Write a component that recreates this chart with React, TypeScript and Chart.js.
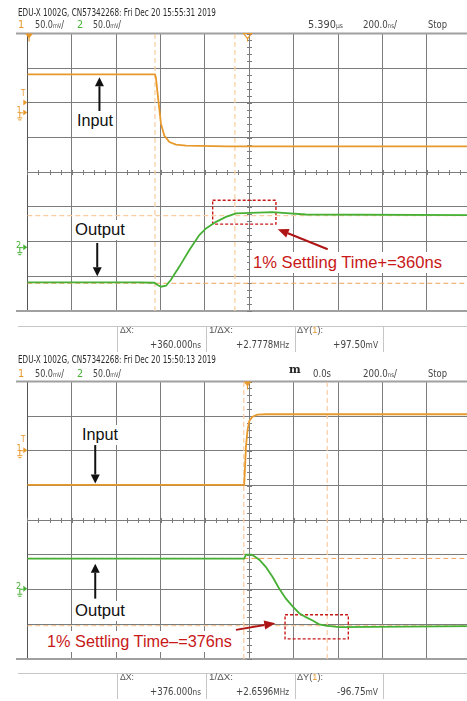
import React, { useEffect, useLayoutEffect, useRef } from "react";
import { Chart, registerables } from "chart.js";

Chart.register(...registerables);

// ---------------- data (time in ns from screen centre, level in mV from screen centre) ----------------
// Scope 1: falling input step
const s1InputTime = [-1000, -425, -421, -408, -398, -383, -360, -330, -285, -100, 1000];
const s1InputLevel = [141, 141, 137, 98.8, 70, 53, 43.6, 39.9, 38.4, 37.4, 37.4];
const s1OutputTime = [-1000, -495, -428, -413, -398, -375, -353, -315, -270, -225, -195, -150, -105, -60, 105, 150, 255, 1000];
const s1OutputLevel = [-158.7, -158.7, -159.3, -162.6, -165, -163.6, -155, -136, -112, -90.6, -81, -71.5, -64.3, -59.4, -57.6, -58.5, -60.9, -61.9];
const s1CursorTime = [-425, -65];
const s1CursorLevel = [-160, -62.5];
const s1BoxTime = [-165, 120];
const s1BoxLevel = [-40.3, -74.8];

// Scope 2: rising input step
const s2InputTime = [-1000, -23, -15, -8, 0, 13, 36, 75, 1000];
const s2InputLevel = [51, 51, 106, 130, 143, 149, 152.2, 152.8, 152.8];
const s2OutputTime = [-1000, -23, -15, 10, 22.5, 45, 75, 105, 135, 165, 195, 225, 255, 285, 315, 345, 405, 1000];
const s2OutputLevel = [-55.3, -55.3, -49.6, -49.6, -52, -56.8, -67.5, -81.9, -98.7, -113, -124, -134, -139.7, -144.5, -150, -152, -154, -152.5];
const s2CursorTime = [-25, 351];
const s2CursorLevel = [-55, -151.75];
const s2BoxTime = [161, 446];
const s2BoxLevel = [-136.3, -171];

// axis settings (200 ns/div, 50 mV/div)
const timeRange = [-1000, 1000];
const levelRange = [-200, 200];
const timeDiv = 200;
const levelDiv = 50;

// text
const s1Stamp = "EDU-X 1002G, CN57342268: Fri Dec 20 15:55:31 2019";
const s2Stamp = "EDU-X 1002G, CN57342268: Fri Dec 20 15:50:13 2019";
const s1Footer = ["+360.000", "ns", "+2.7778", "MHz", "+97.50", "mV"];
const s2Footer = ["+376.000", "ns", "+2.6596", "MHz", "-96.75", "mV"];

// ---------------- styles ----------------
const ORANGE = "#E8992C";
const GREEN = "#45B033";
const CUR_A = "#F0A45A";
const CUR_B = "#F8CCA0";
const RED = "#C81818";
const GRID = "#7c7c7c";
const FRAME = "#a0a0a0";
const NARROW = '"Liberation Sans Narrow", "DejaVu Sans Condensed", "Liberation Sans", Arial, sans-serif';
const SANS = '"Liberation Sans", Arial, Helvetica, sans-serif';

const pts = (t: number[], v: number[]) => t.map((x, i) => ({ x, y: v[i] }));

function drawArrow(ctx: CanvasRenderingContext2D, x1: number, y1: number, x2: number, y2: number, color: string, width: number, hl: number, hw: number) {
  const a = Math.atan2(y2 - y1, x2 - x1);
  const bx = x2 - hl * Math.cos(a), by = y2 - hl * Math.sin(a);
  ctx.strokeStyle = color;
  ctx.lineWidth = width;
  ctx.beginPath();
  ctx.moveTo(x1, y1);
  ctx.lineTo(bx, by);
  ctx.stroke();
  ctx.fillStyle = color;
  ctx.beginPath();
  ctx.moveTo(x2, y2);
  ctx.lineTo(bx + (hw / 2) * Math.sin(a), by - (hw / 2) * Math.cos(a));
  ctx.lineTo(bx - (hw / 2) * Math.sin(a), by + (hw / 2) * Math.cos(a));
  ctx.closePath();
  ctx.fill();
}

const scopeDecor = {
  id: "scopeDecor",
  beforeDatasetsDraw(chart: any, _a: any, opts: any) {
    const { ctx, chartArea: ar, scales } = chart;
    const x = scales.x, y = scales.y;
    ctx.save();
    ctx.strokeStyle = FRAME;
    ctx.lineWidth = 2;
    ctx.beginPath();
    ctx.moveTo(16, ar.top);
    ctx.lineTo(ar.right, ar.top);
    ctx.moveTo(16, ar.bottom);
    ctx.lineTo(ar.right, ar.bottom);
    ctx.stroke();
    ctx.strokeStyle = GRID;
    ctx.lineWidth = 1;
    const cx = Math.round(x.getPixelForValue(0)) + 0.5;
    const cy = Math.round(y.getPixelForValue(0)) + 0.5;
    ctx.beginPath();
    for (let t = timeRange[0]; t <= timeRange[1]; t += timeDiv / 4) {
      const px = Math.round(x.getPixelForValue(t)) + 0.5;
      ctx.moveTo(px, cy - 2.5);
      ctx.lineTo(px, cy + 2.5);
    }
    for (let v = levelRange[0]; v <= levelRange[1]; v += levelDiv / 5) {
      const py = Math.round(y.getPixelForValue(v)) + 0.5;
      ctx.moveTo(cx - 2.5, py);
      ctx.lineTo(cx + 2.5, py);
    }
    ctx.stroke();
    ctx.restore();
  },
  afterDatasetsDraw(chart: any, _a: any, opts: any) {
    const { ctx, chartArea: ar, scales } = chart;
    const x = scales.x, y = scales.y;
    ctx.save();
    for (const a of opts.arrows || []) {
      drawArrow(ctx, x.getPixelForValue(a.t1), y.getPixelForValue(a.v1), x.getPixelForValue(a.t2), y.getPixelForValue(a.v2), a.color, a.width, a.hl, a.hw);
    }
    for (const m of opts.markers || []) {
      const py = y.getPixelForValue(m.v);
      const L = ar.left;
      ctx.fillStyle = m.color;
      ctx.strokeStyle = m.color;
      ctx.lineWidth = 1;
      ctx.beginPath();
      ctx.moveTo(L, py);
      ctx.lineTo(L - 4, py - 3);
      ctx.lineTo(L - 4, py + 3);
      ctx.closePath();
      ctx.fill();
      if (m.ground) {
        ctx.beginPath();
        ctx.moveTo(L - 4, py + 0.5);
        ctx.lineTo(L - 7.5, py + 0.5);
        ctx.lineTo(L - 7.5, py + 5);
        ctx.moveTo(L - 10, py + 5.5);
        ctx.lineTo(L - 5, py + 5.5);
        ctx.moveTo(L - 9, py + 7.5);
        ctx.lineTo(L - 6, py + 7.5);
        ctx.stroke();
      }
    }
    for (const m of opts.top || []) {
      const px = x.getPixelForValue(m.t);
      ctx.fillStyle = ORANGE;
      ctx.strokeStyle = ORANGE;
      ctx.lineWidth = 1.2;
      ctx.beginPath();
      ctx.moveTo(px - 4, ar.top);
      ctx.lineTo(px + 4, ar.top);
      ctx.lineTo(px, ar.top + 5);
      ctx.closePath();
      if (m.hollow) ctx.stroke(); else ctx.fill();
      ctx.beginPath();
      ctx.moveTo(px, ar.top + 4);
      ctx.lineTo(px, ar.top + 8);
      ctx.stroke();
    }
    ctx.restore();
  },
};

type ScopeProps = {
  top: number;
  inT: number[]; inV: number[];
  outT: number[]; outV: number[];
  curT: number[]; curV: number[];
  boxT: number[]; boxV: number[];
  arrows: any[];
  markers: any[];
  topMarks: any[];
};

function ScopeCanvas(p: ScopeProps) {
  const ref = useRef<HTMLCanvasElement>(null);
  useEffect(() => {
    if (!ref.current) return;
    const rect = [
      { x: p.boxT[0], y: p.boxV[0] }, { x: p.boxT[1], y: p.boxV[0] },
      { x: p.boxT[1], y: p.boxV[1] }, { x: p.boxT[0], y: p.boxV[1] }, { x: p.boxT[0], y: p.boxV[0] },
    ];
    const line = (data: any[], color: string, width: number, dash: number[] = []) => ({
      data, borderColor: color, borderWidth: width, borderDash: dash, pointRadius: 0, tension: 0, fill: false,
    });
    const chart = new Chart(ref.current, {
      type: "line",
      data: {
        datasets: [
          line(pts(p.inT, p.inV), ORANGE, 1.8),
          line(pts(p.outT, p.outV), GREEN, 1.8),
          line(rect, RED, 1.4, [3, 2]),
          line([{ x: p.curT[0], y: levelRange[0] }, { x: p.curT[0], y: levelRange[1] }], CUR_B, 1.2, [5, 3]),
          line([{ x: p.curT[1], y: levelRange[0] }, { x: p.curT[1], y: levelRange[1] }], CUR_B, 1.2, [5, 3]),
          line([{ x: timeRange[0], y: p.curV[0] }, { x: timeRange[1], y: p.curV[0] }], CUR_A, 1, [5, 3]),
          line([{ x: timeRange[0], y: p.curV[1] }, { x: timeRange[1], y: p.curV[1] }], CUR_B, 1.2, [5, 3]),
        ] as any,
      },
      options: {
        responsive: false,
        animation: false,
        devicePixelRatio: 1,
        events: [],
        layout: { padding: { left: 27.3, right: 8.7, top: 33.5, bottom: 37 } },
        scales: {
          x: {
            type: "linear", min: timeRange[0], max: timeRange[1],
            ticks: { display: false, stepSize: timeDiv },
            grid: { color: GRID, lineWidth: 1, drawTicks: false },
            border: { display: true, color: GRID, width: 1 },
          },
          y: {
            type: "linear", min: levelRange[0], max: levelRange[1],
            ticks: { display: false, stepSize: levelDiv },
            grid: { color: GRID, lineWidth: 1, drawTicks: false },
            border: { display: true, color: "#555", width: 1 },
          },
        },
        plugins: {
          legend: { display: false },
          tooltip: { enabled: false },
          scopeDecor: { arrows: p.arrows, markers: p.markers, top: p.topMarks },
        } as any,
      },
      plugins: [scopeDecor as any],
    });
    return () => chart.destroy();
  }, []);
  return (
    <canvas ref={ref} width={480} height={348}
      style={{ position: "absolute", left: 0, top: p.top, width: 480, height: 348 }} />
  );
}

function Txt(props: { x: number; y: number; size: number; w?: number; color?: string; family?: string; bg?: boolean; pad?: number; weight?: any; children: React.ReactNode }) {
  const ref = useRef<HTMLSpanElement>(null);
  useLayoutEffect(() => {
    const el = ref.current;
    if (!el || !props.w) return;
    el.style.transform = "none";
    const w = el.getBoundingClientRect().width;
    if (w > 0) el.style.transform = `scaleX(${props.w / w})`;
  });
  const pad = props.pad ?? 0;
  const padY = props.bg ? 2 : 0;
  return (
    <div style={{
      position: "absolute", left: props.x - pad, top: props.y - 0.49 * props.size - padY,
      width: props.w ? props.w + 2 * pad : undefined, height: props.size + 2 * padY,
      background: props.bg ? "#fff" : "transparent",
    }}>
      <span ref={ref} style={{
        position: "absolute", left: pad, top: padY, whiteSpace: "nowrap", display: "inline-block",
        transformOrigin: "0 0", fontSize: props.size, lineHeight: `${props.size}px`,
        fontFamily: props.family ?? NARROW, color: props.color ?? "#2a2a2a", fontWeight: props.weight ?? 400,
      }}>{props.children}</span>
    </div>
  );
}

const small = (s: string) => <span style={{ fontSize: "0.62em" }}>{s}</span>;
const unit = (s: string) => <span style={{ fontSize: "0.85em" }}>{s}</span>;

function Footer({ top, vals }: { top: number; vals: string[] }) {
  const lineC = "#c6c6c6";
  const neg = vals[4].startsWith("-");
  return (
    <>
      <div style={{ position: "absolute", left: 18, top: top + 326, width: 449, height: 1, background: lineC }} />
      {[117, 205.5, 294.5, 382.5].map((x) => (
        <div key={x} style={{ position: "absolute", left: x, top: top + 326, width: 1, height: 26, background: lineC }} />
      ))}
      <Txt x={120} y={top + 330.5} size={9} w={14} family={SANS} color="#555">ΔX:</Txt>
      <Txt x={209} y={top + 330.5} size={9} w={24} family={SANS} color="#555">1/ΔX:</Txt>
      <Txt x={297} y={top + 330.5} size={9} w={26} family={SANS} color="#555">ΔY(<span style={{ color: ORANGE }}>1</span>):</Txt>
      <Txt x={150} y={top + 343.7} size={10.5} w={51} color="#444">{vals[0]}{unit(vals[1])}</Txt>
      <Txt x={236} y={top + 343.7} size={10.5} w={53} color="#444">{vals[2]}{unit(vals[3])}</Txt>
      <Txt x={neg ? 337 : 333} y={top + 343.7} size={10.5} w={neg ? 41 : 45} color="#444">{vals[4]}{unit(vals[5])}</Txt>
    </>
  );
}

export default function App() {
  const blk2 = 348;
  return (
    <div style={{ position: "absolute", left: 0, top: 0, width: 467, height: 701, overflow: "hidden", background: "#fff" }}>
      <ScopeCanvas
        top={0}
        inT={s1InputTime} inV={s1InputLevel} outT={s1OutputTime} outV={s1OutputLevel}
        curT={s1CursorTime} curV={s1CursorLevel} boxT={s1BoxTime} boxV={s1BoxLevel}
        arrows={[
          { t1: -675, v1: 86.8, t2: -675, v2: 137, color: "#111", width: 2, hl: 9, hw: 9 },
          { t1: -685, v1: -102, t2: -685, v2: -150, color: "#111", width: 2, hl: 9, hw: 9 },
          { t1: 353, v1: -111, t2: 128, v2: -82, color: "#B01515", width: 2, hl: 11, hw: 9 },
        ]}
        markers={[
          { v: 100.7, color: ORANGE },
          { v: 86.3, color: ORANGE, ground: true },
          { v: -108, color: GREEN, ground: true },
        ]}
        topMarks={[{ t: -1000 + 8, hollow: false }, { t: -8, hollow: true }]}
      />
      <ScopeCanvas
        top={blk2}
        inT={s2InputTime} inV={s2InputLevel} outT={s2OutputTime} outV={s2OutputLevel}
        curT={s2CursorTime} curV={s2CursorLevel} boxT={s2BoxTime} boxV={s2BoxLevel}
        arrows={[
          { t1: -694, v1: 108.4, t2: -694, v2: 53, color: "#111", width: 2, hl: 9, hw: 9 },
          { t1: -694, v1: -113, t2: -694, v2: -62.6, color: "#111", width: 2, hl: 9, hw: 9 },
          { t1: -60, v1: -158, t2: 117, v2: -148.4, color: "#B01515", width: 2, hl: 11, hw: 9 },
        ]}
        markers={[
          { v: 101, color: ORANGE, ground: true },
          { v: -98.7, color: GREEN, ground: true },
        ]}
        topMarks={[{ t: -8, hollow: false }]}
      />

      {/* ---- scope 1 header ---- */}
      <Txt x={18} y={13} size={10.8} w={198}>{s1Stamp}</Txt>
      <Txt x={18} y={25.7} size={10.8} color={ORANGE}>1</Txt>
      <Txt x={35} y={25.7} size={10.8} w={29} color="#444">50.0{small("mV")}/</Txt>
      <Txt x={77} y={25.7} size={10.8} color={GREEN}>2</Txt>
      <Txt x={93} y={25.7} size={10.8} w={28} color="#444">50.0{small("mV")}/</Txt>
      <Txt x={308} y={25.7} size={10.8} w={35} color="#444">5.390{small("µs")}</Txt>
      <Txt x={363} y={25.7} size={10.8} w={34} color="#444">200.0{small("ns")}/</Txt>
      <Txt x={428} y={25.7} size={10.8} w={19} color="#444">Stop</Txt>
      <Txt x={21} y={94} size={8} color={ORANGE}>T</Txt>
      <Txt x={16.5} y={110.5} size={9} color={ORANGE}>1</Txt>
      <Txt x={16} y={245} size={9} color={GREEN}>2</Txt>

      {/* ---- scope 1 labels ---- */}
      <Txt x={77} y={121} size={16} w={36} family={SANS} color="#111" bg pad={2}>Input</Txt>
      <Txt x={75} y={230} size={16} w={50} family={SANS} color="#111" bg pad={2}>Output</Txt>
      <Txt x={253} y={262.5} size={17} w={189} family={SANS} color={RED} bg pad={3}>1% Settling Time+=360ns</Txt>
      <Footer top={0} vals={s1Footer} />

      {/* ---- scope 2 header ---- */}
      <Txt x={18} y={360} size={10.8} w={198}>{s2Stamp}</Txt>
      <Txt x={18} y={374} size={10.8} color={ORANGE}>1</Txt>
      <Txt x={35} y={374} size={10.8} w={29} color="#444">50.0{small("mV")}/</Txt>
      <Txt x={77} y={374} size={10.8} color={GREEN}>2</Txt>
      <Txt x={93} y={374} size={10.8} w={28} color="#444">50.0{small("mV")}/</Txt>
      <Txt x={289} y={369} size={11} color="#222" family='"DejaVu Serif", serif' weight={700}>m</Txt>
      <Txt x={313} y={374} size={10.8} w={18} color="#444">0.0s</Txt>
      <Txt x={363} y={374} size={10.8} w={34} color="#444">200.0{small("ns")}/</Txt>
      <Txt x={428} y={374} size={10.8} w={19} color="#444">Stop</Txt>
      <Txt x={21} y={440} size={8} color={ORANGE}>T</Txt>
      <Txt x={16.5} y={448} size={9} color={ORANGE}>1</Txt>
      <Txt x={16} y={586.5} size={9} color={GREEN}>2</Txt>

      {/* ---- scope 2 labels ---- */}
      <Txt x={82} y={435} size={16} w={36} family={SANS} color="#111" bg pad={2}>Input</Txt>
      <Txt x={75} y={611} size={16} w={50} family={SANS} color="#111" bg pad={2}>Output</Txt>
      <Txt x={47} y={641.3} size={17} w={185} family={SANS} color={RED} bg pad={3}>1% Settling Time–=376ns</Txt>
      <Footer top={blk2 - 0.7} vals={s2Footer} />
    </div>
  );
}
